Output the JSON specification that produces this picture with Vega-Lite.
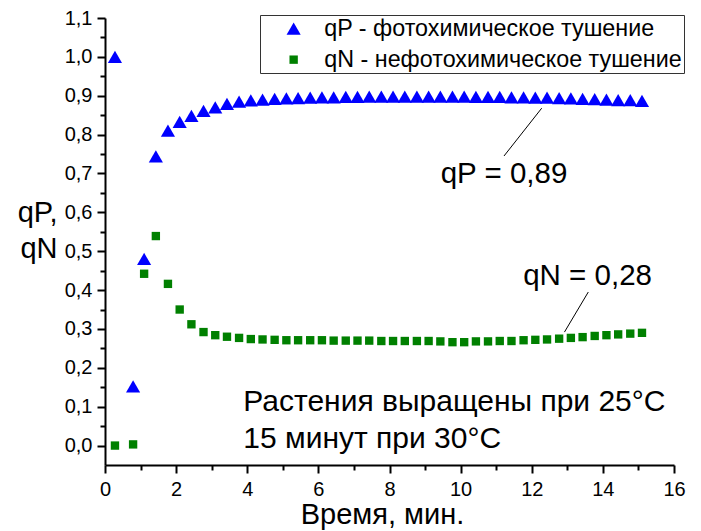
{
  "$schema": "https://vega.github.io/schema/vega-lite/v6.json",
  "width": 569,
  "height": 447,
  "autosize": {"type": "none"},
  "padding": {"left": 105, "top": 18, "right": 27, "bottom": 66},
  "background": "white",
  "config": {
    "view": {"stroke": null},
    "font": "Liberation Sans",
    "axis": {
      "grid": false,
      "domainColor": "black",
      "tickColor": "black",
      "labelColor": "black",
      "titleColor": "black",
      "labelFont": "Liberation Sans",
      "titleFont": "Liberation Sans",
      "titleFontWeight": "normal",
      "labelFlush": false,
      "labelOverlap": false
    },
    "legend": {
      "title": null,
      "orient": "none",
      "legendX": 155,
      "legendY": -3,
      "fillColor": "white",
      "strokeColor": "#333333",
      "padding": 2,
      "symbolOffset": 20,
      "labelOffset": 19,
      "rowPadding": 7,
      "labelFont": "Liberation Sans",
      "labelFontSize": 23.3,
      "labelColor": "black",
      "labelLimit": 0,
      "symbolStrokeWidth": 0
    }
  },
  "datasets": {
    "quenching": [
      {"t": 0.28, "series": "qP", "value": 1.0},
      {"t": 0.79, "series": "qP", "value": 0.152},
      {"t": 1.1, "series": "qP", "value": 0.48},
      {"t": 1.43, "series": "qP", "value": 0.744},
      {"t": 1.77, "series": "qP", "value": 0.81},
      {"t": 2.1, "series": "qP", "value": 0.833},
      {"t": 2.43, "series": "qP", "value": 0.848},
      {"t": 2.77, "series": "qP", "value": 0.861},
      {"t": 3.1, "series": "qP", "value": 0.87},
      {"t": 3.43, "series": "qP", "value": 0.879},
      {"t": 3.77, "series": "qP", "value": 0.885},
      {"t": 4.1, "series": "qP", "value": 0.888},
      {"t": 4.43, "series": "qP", "value": 0.89},
      {"t": 4.77, "series": "qP", "value": 0.892},
      {"t": 5.1, "series": "qP", "value": 0.893},
      {"t": 5.43, "series": "qP", "value": 0.894},
      {"t": 5.77, "series": "qP", "value": 0.895},
      {"t": 6.1, "series": "qP", "value": 0.896},
      {"t": 6.43, "series": "qP", "value": 0.896},
      {"t": 6.77, "series": "qP", "value": 0.897},
      {"t": 7.1, "series": "qP", "value": 0.897},
      {"t": 7.43, "series": "qP", "value": 0.898},
      {"t": 7.77, "series": "qP", "value": 0.898},
      {"t": 8.1, "series": "qP", "value": 0.898},
      {"t": 8.43, "series": "qP", "value": 0.898},
      {"t": 8.77, "series": "qP", "value": 0.898},
      {"t": 9.1, "series": "qP", "value": 0.898},
      {"t": 9.43, "series": "qP", "value": 0.898},
      {"t": 9.77, "series": "qP", "value": 0.898},
      {"t": 10.1, "series": "qP", "value": 0.898},
      {"t": 10.43, "series": "qP", "value": 0.897},
      {"t": 10.77, "series": "qP", "value": 0.897},
      {"t": 11.1, "series": "qP", "value": 0.897},
      {"t": 11.43, "series": "qP", "value": 0.896},
      {"t": 11.77, "series": "qP", "value": 0.896},
      {"t": 12.1, "series": "qP", "value": 0.895},
      {"t": 12.43, "series": "qP", "value": 0.895},
      {"t": 12.77, "series": "qP", "value": 0.894},
      {"t": 13.1, "series": "qP", "value": 0.893},
      {"t": 13.43, "series": "qP", "value": 0.892},
      {"t": 13.77, "series": "qP", "value": 0.891},
      {"t": 14.1, "series": "qP", "value": 0.89},
      {"t": 14.43, "series": "qP", "value": 0.889},
      {"t": 14.77, "series": "qP", "value": 0.889},
      {"t": 15.1, "series": "qP", "value": 0.887},
      {"t": 0.28, "series": "qN", "value": 0.0},
      {"t": 0.79, "series": "qN", "value": 0.003},
      {"t": 1.1, "series": "qN", "value": 0.442},
      {"t": 1.43, "series": "qN", "value": 0.539},
      {"t": 1.77, "series": "qN", "value": 0.416},
      {"t": 2.1, "series": "qN", "value": 0.35},
      {"t": 2.43, "series": "qN", "value": 0.312},
      {"t": 2.77, "series": "qN", "value": 0.292},
      {"t": 3.1, "series": "qN", "value": 0.284},
      {"t": 3.43, "series": "qN", "value": 0.28},
      {"t": 3.77, "series": "qN", "value": 0.277},
      {"t": 4.1, "series": "qN", "value": 0.274},
      {"t": 4.43, "series": "qN", "value": 0.273},
      {"t": 4.77, "series": "qN", "value": 0.272},
      {"t": 5.1, "series": "qN", "value": 0.271},
      {"t": 5.43, "series": "qN", "value": 0.271},
      {"t": 5.77, "series": "qN", "value": 0.271},
      {"t": 6.1, "series": "qN", "value": 0.271},
      {"t": 6.43, "series": "qN", "value": 0.27},
      {"t": 6.77, "series": "qN", "value": 0.27},
      {"t": 7.1, "series": "qN", "value": 0.27},
      {"t": 7.43, "series": "qN", "value": 0.27},
      {"t": 7.77, "series": "qN", "value": 0.269},
      {"t": 8.1, "series": "qN", "value": 0.269},
      {"t": 8.43, "series": "qN", "value": 0.269},
      {"t": 8.77, "series": "qN", "value": 0.269},
      {"t": 9.1, "series": "qN", "value": 0.269},
      {"t": 9.43, "series": "qN", "value": 0.268},
      {"t": 9.77, "series": "qN", "value": 0.266},
      {"t": 10.1, "series": "qN", "value": 0.266},
      {"t": 10.43, "series": "qN", "value": 0.268},
      {"t": 10.77, "series": "qN", "value": 0.268},
      {"t": 11.1, "series": "qN", "value": 0.269},
      {"t": 11.43, "series": "qN", "value": 0.269},
      {"t": 11.77, "series": "qN", "value": 0.271},
      {"t": 12.1, "series": "qN", "value": 0.272},
      {"t": 12.43, "series": "qN", "value": 0.273},
      {"t": 12.77, "series": "qN", "value": 0.275},
      {"t": 13.1, "series": "qN", "value": 0.277},
      {"t": 13.43, "series": "qN", "value": 0.279},
      {"t": 13.77, "series": "qN", "value": 0.282},
      {"t": 14.1, "series": "qN", "value": 0.284},
      {"t": 14.43, "series": "qN", "value": 0.286},
      {"t": 14.77, "series": "qN", "value": 0.288},
      {"t": 15.1, "series": "qN", "value": 0.29}
    ],
    "leaders": [
      {"series": "qP", "t_from": 12.28, "v_from": 0.868, "t_to": 11.22, "v_to": 0.745},
      {"series": "qN", "t_from": 13.59, "v_from": 0.395, "t_to": 12.92, "v_to": 0.292}
    ],
    "single": [{}]
  },
  "layer": [
    {
      "data": {"name": "quenching"},
      "mark": {"type": "point", "filled": true, "opacity": 1, "strokeWidth": 0},
      "encoding": {
        "x": {
          "field": "t",
          "type": "quantitative",
          "scale": {"domain": [0, 16], "nice": false, "zero": false},
          "axis": {
            "orient": "bottom",
            "values": [0, 1, 2, 3, 4, 5, 6, 7, 8, 9, 10, 11, 12, 13, 14, 15, 16],
            "tickCount": 50,
            "labelExpr": "datum.value % 2 === 0 ? format(datum.value, 'd') : ''",
            "labelFontSize": 20,
            "labelPadding": 6,
            "tickSize": {"condition": {"test": "datum.value % 2 === 0", "value": 8}, "value": 5},
            "tickWidth": 2,
            "domainWidth": 2,
            "title": "Время, мин.",
            "titleFontSize": 29,
            "titleAlign": "center",
            "titleBaseline": "alphabetic",
            "titleX": 277,
            "titleY": 58
          }
        },
        "y": {
          "field": "value",
          "type": "quantitative",
          "scale": {"domain": [-0.05, 1.1], "nice": false, "zero": false},
          "axis": {
            "orient": "left",
            "values": [0, 0.05, 0.1, 0.15, 0.2, 0.25, 0.3, 0.35, 0.4, 0.45, 0.5, 0.55, 0.6, 0.65, 0.7, 0.75, 0.8, 0.85, 0.9, 0.95, 1.0, 1.05, 1.1],
            "tickCount": 50,
            "labelExpr": "round(datum.value * 100) % 10 === 0 ? replace(format(datum.value, '.1f'), '.', ',') : ''",
            "labelFontSize": 20,
            "labelPadding": 5,
            "tickSize": {"condition": {"test": "round(datum.value * 100) % 10 === 0", "value": 8}, "value": 5},
            "tickWidth": 2,
            "domainWidth": 2,
            "title": ["qP,", "qN"],
            "titleFontSize": 29,
            "titleAngle": 0,
            "titleAlign": "right",
            "titleBaseline": "alphabetic",
            "titleLineHeight": 36,
            "titleX": -48,
            "titleY": 203
          }
        },
        "shape": {
          "field": "series",
          "type": "nominal",
          "scale": {"domain": ["qP", "qN"], "range": ["triangle-up", "square"]},
          "legend": {
            "labelExpr": "datum.label == 'qP' ? 'qP - фотохимическое тушение' : 'qN - нефотохимическое тушение'"
          }
        },
        "color": {
          "field": "series",
          "type": "nominal",
          "scale": {"domain": ["qP", "qN"], "range": ["#0000FF", "#008000"]},
          "legend": {
            "labelExpr": "datum.label == 'qP' ? 'qP - фотохимическое тушение' : 'qN - нефотохимическое тушение'"
          }
        },
        "size": {
          "field": "series",
          "type": "ordinal",
          "scale": {"domain": ["qP", "qN"], "range": [200, 70]},
          "legend": {
            "labelExpr": "datum.label == 'qP' ? 'qP - фотохимическое тушение' : 'qN - нефотохимическое тушение'"
          }
        }
      }
    },
    {
      "data": {"name": "leaders"},
      "mark": {"type": "rule", "color": "black", "strokeWidth": 1},
      "encoding": {
        "x": {"field": "t_from", "type": "quantitative"},
        "y": {"field": "v_from", "type": "quantitative"},
        "x2": {"field": "t_to"},
        "y2": {"field": "v_to"}
      }
    },
    {
      "data": {"name": "single"},
      "mark": {"type": "text", "font": "Liberation Sans", "fontSize": 29.5, "align": "center", "baseline": "alphabetic", "color": "black"},
      "encoding": {
        "x": {"datum": 11.22, "type": "quantitative"},
        "y": {"datum": 0.675, "type": "quantitative"},
        "text": {"value": "qP = 0,89"}
      }
    },
    {
      "data": {"name": "single"},
      "mark": {"type": "text", "font": "Liberation Sans", "fontSize": 29.5, "align": "center", "baseline": "alphabetic", "color": "black"},
      "encoding": {
        "x": {"datum": 13.57, "type": "quantitative"},
        "y": {"datum": 0.412, "type": "quantitative"},
        "text": {"value": "qN = 0,28"}
      }
    },
    {
      "data": {"name": "single"},
      "mark": {"type": "text", "font": "Liberation Sans", "fontSize": 30, "align": "left", "baseline": "alphabetic", "lineHeight": 37, "color": "black"},
      "encoding": {
        "x": {"datum": 3.89, "type": "quantitative"},
        "y": {"datum": 0.09, "type": "quantitative"},
        "text": {"value": ["Растения выращены при 25°C", "15 минут при 30°C"]}
      }
    }
  ]
}
